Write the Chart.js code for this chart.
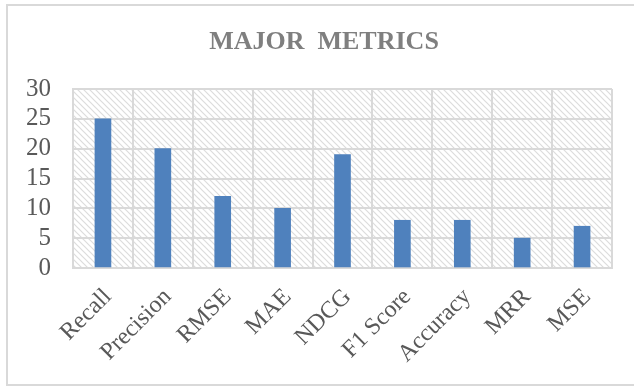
<html>
	<head>
		<script src="https://cdn.jsdelivr.net/npm/chart.js"></script>
		<style>
			body {
				margin: 0;
				background: #ffffff;
			}
			#wrap {
				position: absolute;
				left: 0;
				top: 0;
				width: 634px;
				height: 386px;
			}
		</style>
	</head>
	<body>
		<div id="wrap"><canvas id="metricChart"></canvas></div>

		<script>
			const chartTitle = 'MAJOR  METRICS';
			const metricLabels = ['Recall', 'Precision', 'RMSE', 'MAE', 'NDCG', 'F1 Score', 'Accuracy', 'MRR', 'MSE'];
			const metricCounts = [25, 20, 12, 10, 19, 8, 8, 5, 7];
			const yTicks = [0, 5, 10, 15, 20, 25, 30];

			// diagonal hatch like the office "light downward diagonal" fill
			function makeHatch(ctx) {
				const c = document.createElement('canvas');
				c.width = 6;
				c.height = 6;
				const g = c.getContext('2d');
				g.strokeStyle = '#dcdcdc';
				g.lineWidth = 1.2;
				g.beginPath();
				g.moveTo(-1, -1); g.lineTo(7, 7);
				g.moveTo(-1, 5); g.lineTo(1, 7);
				g.moveTo(5, -1); g.lineTo(7, 1);
				g.stroke();
				return ctx.createPattern(c, 'repeat');
			}

			// outer frame, hatched plot area and the title (centred over the whole frame)
			const backdrop = {
				id: 'backdrop',
				beforeDraw(chart) {
					const { ctx, chartArea: a } = chart;
					ctx.save();
					ctx.strokeStyle = '#d9d9d9';
					ctx.lineWidth = 2;
					ctx.strokeRect(7, 5, 660, 380);
					ctx.fillStyle = makeHatch(ctx);
					ctx.fillRect(a.left, a.top, a.right - a.left, a.bottom - a.top);
					ctx.fillStyle = '#7f7f7f';
					ctx.font = 'bold 26px "Liberation Serif"';
					ctx.textAlign = 'center';
					ctx.textBaseline = 'middle';
					ctx.fillText(chartTitle, 324, 42);
					ctx.restore();
				}
			};

			const ctx = document.getElementById('metricChart').getContext('2d');
			const chart = new Chart(ctx, {
				type: 'bar',
				data: {
					labels: metricLabels,
					datasets: [{
						label: 'Major Metrics',
						data: metricCounts,
						backgroundColor: '#4F81BD',
						barThickness: 16
					}]
				},
				options: {
					responsive: true,
					maintainAspectRatio: false,
					animation: false,
					layout: { padding: { left: 0, right: 22, top: 89, bottom: 0 } },
					plugins: {
						legend: { display: false },
						tooltip: { enabled: false },
						title: { display: false }
					},
					scales: {
						x: {
							grid: { color: '#d9d9d9', lineWidth: 2, drawTicks: false },
							border: { color: '#d9d9d9', width: 2 },
							ticks: {
								color: '#595959',
								font: { family: 'Liberation Serif', size: 24 },
								minRotation: 45,
								maxRotation: 45,
								labelOffset: 5,
								padding: 15
							},
							afterFit(scale) { scale.height = 118; }
						},
						y: {
							min: 0,
							max: 30,
							grid: { color: '#d9d9d9', lineWidth: 2, drawTicks: false },
							border: { color: '#d9d9d9', width: 2 },
							afterBuildTicks(scale) { scale.ticks = yTicks.map(v => ({ value: v })); },
							ticks: {
								color: '#595959',
								font: { family: 'Liberation Serif', size: 25 },
								autoSkip: false,
								padding: 22
							},
							afterFit(scale) { scale.width = 73; }
						}
					}
				},
				plugins: [backdrop]
			});
		</script>
	</body>
</html>
